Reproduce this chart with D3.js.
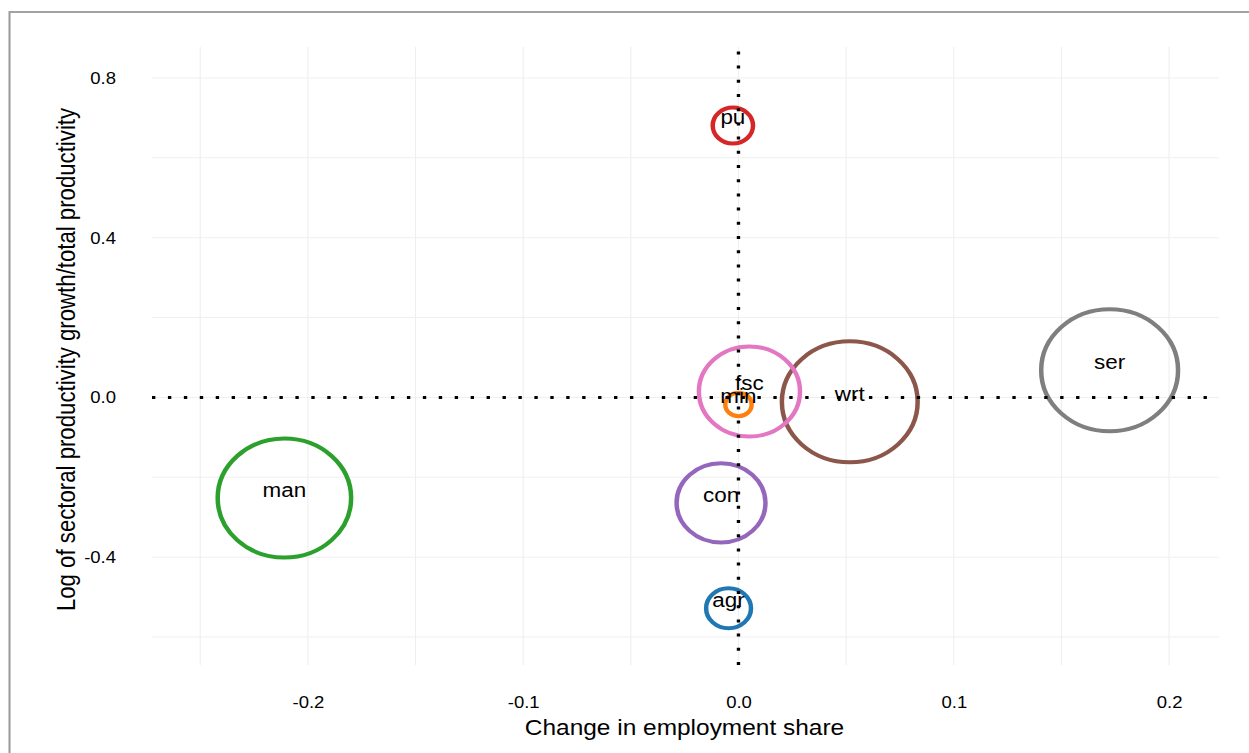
<!DOCTYPE html>
<html>
<head>
<meta charset="utf-8">
<script src="https://cdn.jsdelivr.net/npm/d3@7"></script>
<style>
  html, body { margin: 0; padding: 0; background: #fff; overflow: hidden; }
  svg { display: block; }
  text { font-family: "Liberation Sans", Arial, sans-serif; fill: #000; }
</style>
</head>
<body>
<svg id="chart"></svg>
<script>
// Sector labels and values
const sectors = ["agr", "min", "man", "pu", "con", "wrt", "fsc", "ser"];
const empShareChange = [-0.0046, 0.0, -0.2109, -0.0026, -0.0081, 0.0517, 0.0051, 0.1724];
const logRelProdGrowth = [-0.528, -0.0175, -0.252, 0.681, -0.264, -0.011, 0.015, 0.068];
const avgEmpShare = [0.026, 0.009, 0.230, 0.021, 0.102, 0.238, 0.132, 0.242];
const sectorColors = ["#1f77b4", "#ff7f0e", "#2ca02c", "#d62728", "#9467bd", "#8c564b", "#e377c2", "#7f7f7f"];

// Axis ticks
const xTicks = [-0.2, -0.1, 0.0, 0.1, 0.2];
const xMinorTicks = [-0.25, -0.15, -0.05, 0.05, 0.15];
const yTicks = [-0.4, 0.0, 0.4, 0.8];
const yMinorTicks = [-0.6, -0.2, 0.2, 0.6];
const xDomain = [-0.2724, 0.2232];
const yDomain = [-0.670, 0.8776];

const titleText = "Sectoral productivity growth and change in employment share, by sector";
const xTitle = "Change in employment share";
const yTitle = "Log of sectoral productivity growth/total productivity";

// The drawing is laid out in a narrower coordinate space and stretched horizontally
const W = 1249, H = 753, S = 1.122;
const VW = W / S;

const svg = d3.select("#chart")
  .attr("width", W).attr("height", H)
  .attr("viewBox", `0 0 ${VW} ${H}`)
  .attr("preserveAspectRatio", "none");

const x = d3.scaleLinear().domain(xDomain).range([152 / S, 1219 / S]);
const y = d3.scaleLinear().domain(yDomain).range([665, 47]);
const r = d3.scaleSqrt().domain([0, 1]).range([0, 124]);

// Outer frame
svg.append("rect")
  .attr("x", 9.5 / S).attr("y", 12)
  .attr("width", (1270 - 9.5) / S).attr("height", 780)
  .attr("fill", "none").attr("stroke", "#9a9a9a").attr("stroke-width", 1.8);

// Title
svg.append("text")
  .attr("x", 24 / S).attr("y", -6.5)
  .style("font-size", "22px").style("font-weight", "bold")
  .style("fill", "#e8474a")
  .text(titleText);

// Grid
const grid = svg.append("g");
grid.selectAll(".vx").data(xMinorTicks.concat(xTicks)).join("line")
  .attr("x1", d => x(d)).attr("x2", d => x(d))
  .attr("y1", y.range()[0]).attr("y2", y.range()[1])
  .attr("stroke", "#efefef").attr("stroke-width", 1);
grid.selectAll(".hy").data(yMinorTicks.concat(yTicks)).join("line")
  .attr("x1", x.range()[0]).attr("x2", x.range()[1])
  .attr("y1", d => y(d)).attr("y2", d => y(d))
  .attr("stroke", "#efefef").attr("stroke-width", 1);

// Axes (labels only)
const fmt = d => (Math.abs(d) < 1e-9 ? 0 : d).toFixed(1);
const xAxis = svg.append("g")
  .attr("transform", `translate(0,${y.range()[0]})`)
  .call(d3.axisBottom(x).tickValues(xTicks).tickSize(0).tickPadding(31).tickFormat(fmt));
const yAxis = svg.append("g")
  .attr("transform", `translate(${x.range()[0]},0)`)
  .call(d3.axisLeft(y).tickValues(yTicks).tickSize(0).tickPadding(36 / S).tickFormat(fmt));
[xAxis, yAxis].forEach(g => {
  g.select(".domain").remove();
  g.selectAll("text").style("font-size", "16.5px").style("font-family", "'Liberation Sans', Arial, sans-serif").attr("fill", "#000");
});

// Axis titles
svg.append("text")
  .attr("x", 684.5 / S).attr("y", 735)
  .attr("text-anchor", "middle")
  .style("font-size", "21.8px")
  .text(xTitle);
svg.append("text")
  .attr("transform", `translate(${75 / S},359.5) rotate(-90)`)
  .attr("text-anchor", "middle")
  .style("font-size", "22.2px")
  .text(yTitle);

// Bubbles
const data = sectors.map((s, i) => ({
  sector: s, dx: empShareChange[i], dy: logRelProdGrowth[i], size: avgEmpShare[i], color: sectorColors[i]
}));

svg.append("g").selectAll("circle").data(data).join("circle")
  .attr("cx", d => x(d.dx)).attr("cy", d => y(d.dy))
  .attr("r", d => r(d.size))
  .attr("fill", "none").attr("stroke", d => d.color).attr("stroke-width", 4);

svg.append("g").selectAll("text").data(data).join("text")
  .attr("x", d => x(d.dx)).attr("y", d => y(d.dy) - 1)
  .attr("text-anchor", "middle")
  .style("font-size", "20px")
  .text(d => d.sector);

// Dotted reference lines at zero
svg.append("line")
  .attr("x1", x(0)).attr("x2", x(0))
  .attr("y1", y.range()[0]).attr("y2", y.range()[1])
  .attr("stroke", "#000").attr("stroke-width", 3).attr("stroke-dasharray", "3 11.2");
svg.append("line")
  .attr("x1", x.range()[0]).attr("x2", x.range()[1])
  .attr("y1", y(0)).attr("y2", y(0))
  .attr("stroke", "#000").attr("stroke-width", 3).attr("stroke-dasharray", "3 11.2");
</script>
</body>
</html>
